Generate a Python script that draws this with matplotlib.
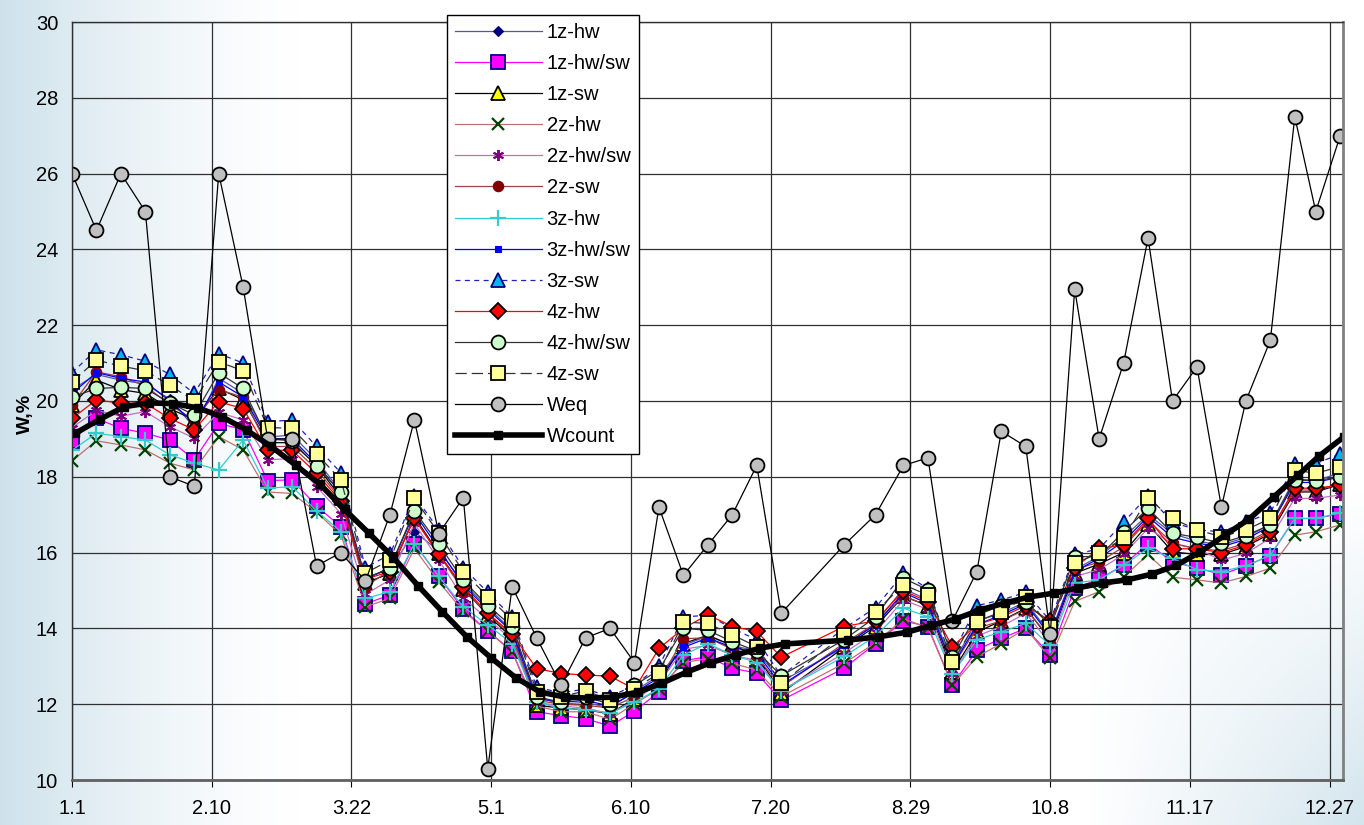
import numpy as np
import matplotlib
matplotlib.use("Agg")
import matplotlib.pyplot as plt

plt.rcParams['font.family'] = ['Liberation Sans', 'DejaVu Sans']

# ---- data -------------------------------------------------------------
# sampling dates as day of year (0 = 1 January)
days = [0, 7, 14, 21, 28, 35, 42, 49, 56, 63, 70, 77, 84, 91, 98, 105, 112,
        119, 126, 133, 140, 147, 154, 161, 168, 175, 182, 189, 196, 203,
        221, 230, 238, 245, 252, 259, 266, 273, 280, 287, 294, 301, 308, 315,
        322, 329, 336, 343, 350, 356, 363]
count_days = [1, 8, 15, 22, 29, 36, 43, 50, 57, 64, 71, 78, 85, 92, 99, 106,
              113, 120, 127, 134, 141, 148, 155, 162, 169, 176, 183, 190, 197,
              204, 222, 231, 239, 246, 253, 260, 267, 274, 281, 288, 295, 302,
              309, 316, 323, 330, 337, 344, 351, 357, 364]

tick_days = [0, 40, 80, 120, 160, 200, 240, 280, 320, 360]
tick_labels = ['1.1', '2.10', '3.22', '5.1', '6.10', '7.20', '8.29', '10.8',
               '11.17', '12.27']

z1_hw = [20.3, 20.7, 20.55, 20.45, 20.05, 19.3, 20.6, 20.2, 19.05, 19.1, 18.45,
         17.6, 15.35, 15.55, 16.55, 16.05, 15.2, 14.55, 13.95, 12.2, 12.0, 12.05,
         11.9, 12.35, 12.75, 13.55, 13.8, 13.55, 13.4, 12.6, 13.5, 14.15, 15.05,
         14.75, 13.05, 14.2, 14.4, 14.7, 13.85, 15.55, 15.9, 16.4, 17.0, 16.5,
         16.3, 16.2, 16.4, 16.75, 17.95, 17.9, 18.1]
z1_hwsw = [18.95, 19.54, 19.28, 19.15, 18.97, 18.45, 19.41, 19.24, 17.9, 17.92,
           17.23, 16.68, 14.65, 14.88, 16.24, 15.37, 14.5, 13.93, 13.4, 11.8,
           11.7, 11.62, 11.42, 11.82, 12.32, 13.15, 13.25, 12.95, 12.82, 12.1,
           12.95, 13.6, 14.2, 14.05, 12.5, 13.43, 13.74, 14.0, 13.3, 15.06, 15.3,
           15.67, 16.24, 15.75, 15.6, 15.42, 15.65, 15.92, 16.9, 16.9, 17.03]
z1_sw = [19.9, 20.55, 20.3, 20.2, 19.8, 19.5, 20.33, 20.03, 18.9, 18.9, 18.3,
         17.45, 15.2, 15.45, 16.95, 15.98, 15.05, 14.35, 13.75, 11.97, 11.9,
         11.85, 11.75, 12.15, 12.55, 13.6, 13.82, 13.55, 13.3, 12.29, 13.5,
         14.05, 14.85, 14.6, 12.85, 13.9, 14.2, 14.53, 13.7, 15.45, 15.7, 16.0,
         16.75, 16.02, 15.95, 15.95, 16.16, 16.5, 17.6, 17.6, 17.8]
z2_hw = [18.42, 18.95, 18.84, 18.71, 18.36, 18.18, 19.06, 18.71, 17.6, 17.56,
         17.07, 16.46, 14.57, 14.79, 16.11, 15.23, 14.45, 13.93, 13.38, 11.95,
         11.8, 11.8, 11.6, 12.01, 12.4, 13.1, 13.2, 13.08, 12.9, 12.2, 13.08,
         13.62, 14.25, 14.02, 12.5, 13.25, 13.6, 14.0, 13.21, 14.71, 14.97,
         15.36, 15.95, 15.35, 15.28, 15.2, 15.37, 15.59, 16.46, 16.55, 16.73]
z2_hwsw = [19.3, 19.75, 19.6, 19.72, 19.32, 19.02, 19.7, 19.5, 18.45, 18.48,
           17.74, 17.03, 14.9, 15.28, 16.77, 15.8, 14.8, 14.25, 13.7, 12.05,
           11.95, 11.9, 11.75, 12.1, 12.55, 13.45, 13.55, 13.3, 13.15, 12.35,
           13.35, 13.9, 14.75, 14.5, 12.8, 13.8, 14.05, 14.4, 13.6, 15.37, 15.55,
           15.95, 16.64, 16.23, 16.1, 15.8, 15.98, 16.38, 17.43, 17.43, 17.52]
z2_sw = [19.9, 20.77, 20.64, 20.4, 19.9, 19.5, 20.3, 20.1, 18.8, 18.8, 18.2,
         17.4, 15.1, 15.54, 16.9, 15.95, 15.0, 14.4, 13.8, 12.1, 12.0, 11.97,
         11.9, 12.2, 12.6, 13.73, 13.75, 13.45, 13.26, 12.45, 13.61, 14.13,
         14.85, 14.6, 13.0, 14.0, 14.2, 14.5, 13.75, 15.55, 15.75, 16.15, 16.85,
         16.25, 16.1, 16.05, 16.25, 16.6, 17.65, 17.65, 17.8]
z3_hw = [18.7, 19.15, 19.06, 18.97, 18.58, 18.36, 18.18, 18.97, 17.7, 17.74,
         17.1, 16.55, 14.79, 14.97, 16.24, 15.37, 14.57, 14.09, 13.6, 12.05,
         11.9, 11.85, 11.77, 12.05, 12.41, 13.3, 13.6, 13.3, 13.1, 12.35, 13.26,
         13.8, 14.53, 14.31, 12.8, 13.7, 13.91, 14.13, 13.55, 15.2, 15.28,
         15.67, 16.11, 15.85, 15.55, 15.5, 15.65, 15.93, 16.9, 16.9, 17.05]
z3_hwsw = [20.2, 20.75, 20.6, 20.5, 20.0, 19.41, 20.5, 20.11, 19.0, 19.0, 18.35,
           17.55, 15.3, 15.6, 17.05, 16.1, 15.14, 14.5, 13.91, 12.15, 12.05,
           12.1, 11.95, 12.3, 12.7, 13.5, 13.75, 13.5, 13.35, 12.5, 13.55, 14.1,
           14.95, 14.65, 13.0, 14.1, 14.35, 14.65, 13.8, 15.5, 15.85, 16.3,
           16.95, 16.4, 16.25, 16.15, 16.35, 16.7, 17.85, 17.85, 18.0]
z3_sw = [20.75, 21.35, 21.22, 21.05, 20.7, 20.2, 21.25, 21.0, 19.45, 19.5, 18.8,
         18.1, 15.6, 15.95, 17.5, 16.6, 15.6, 14.95, 14.3, 12.45, 12.3, 12.4,
         12.2, 12.5, 13.0, 14.3, 14.35, 14.0, 13.7, 12.75, 14.0, 14.55, 15.45,
         15.05, 13.3, 14.6, 14.75, 14.95, 14.2, 15.95, 16.1, 16.8, 17.5, 16.8,
         16.6, 16.55, 16.8, 17.05, 18.35, 18.35, 18.6]
z4_hw = [19.54, 20.03, 19.94, 19.94, 19.54, 19.24, 19.98, 19.8, 18.7, 18.7,
         18.09, 17.35, 15.3, 15.5, 16.9, 15.95, 15.1, 14.4, 13.85, 12.94, 12.81,
         12.77, 12.74, 12.4, 13.47, 14.0, 14.36, 14.05, 13.92, 13.24, 14.05,
         14.2, 15.0, 14.7, 13.52, 14.1, 14.3, 14.6, 14.2, 15.6, 16.11, 16.2,
         16.9, 16.1, 16.1, 16.0, 16.2, 16.55, 17.7, 17.7, 17.78]
z4_hwsw = [20.1, 20.33, 20.36, 20.33, 19.95, 19.63, 20.74, 20.33, 19.0, 18.95,
           18.28, 17.6, 15.3, 15.6, 17.1, 16.22, 15.27, 14.6, 14.05, 12.2, 12.05,
           12.2, 12.0, 12.5, 12.9, 14.0, 13.95, 13.65, 13.4, 12.75, 13.7, 14.3,
           15.32, 15.02, 13.25, 14.35, 14.6, 14.7, 14.1, 15.89, 15.9, 16.55,
           17.17, 16.51, 16.4, 16.25, 16.45, 16.73, 17.91, 17.9, 18.0]
z4_sw = [20.5, 21.08, 20.92, 20.8, 20.41, 20.01, 21.03, 20.8, 19.3, 19.28, 18.6,
         17.92, 15.46, 15.8, 17.43, 16.51, 15.49, 14.84, 14.22, 12.33, 12.2,
         12.35, 12.12, 12.4, 12.82, 14.17, 14.13, 13.83, 13.52, 12.55, 13.83,
         14.44, 15.15, 14.88, 13.12, 14.18, 14.44, 14.83, 14.04, 15.72, 15.98,
         16.38, 17.43, 16.9, 16.6, 16.42, 16.6, 16.9, 18.18, 18.09, 18.27]
w_eq = [26.0, 24.5, 26.0, 25.0, 18.0, 17.75, 26.0, 23.0, 19.0, 19.0, 15.65,
        16.0, 15.25, 17.0, 19.5, 16.5, 17.45, 10.3, 15.1, 13.75, 12.5, 13.75,
        14.0, 13.1, 17.2, 15.4, 16.2, 17.0, 18.3, 14.4, 16.2, 17.0, 18.3, 18.5,
        14.2, 15.5, 19.2, 18.8, 13.85, 22.95, 19.0, 21.0, 24.3, 20.0, 20.9,
        17.2, 20.0, 21.6, 27.5, 25.0, 27.0]
w_count = [19.15, 19.52, 19.85, 19.95, 19.93, 19.82, 19.58, 19.23, 18.8, 18.31,
           17.8, 17.14, 16.51, 15.87, 15.13, 14.44, 13.78, 13.22, 12.7, 12.32,
           12.19, 12.16, 12.19, 12.32, 12.56, 12.85, 13.1, 13.3, 13.48, 13.59,
           13.69, 13.78, 13.9, 14.08, 14.25, 14.49, 14.67, 14.83, 14.93, 15.07,
           15.2, 15.28, 15.43, 15.66, 16.02, 16.46, 16.89, 17.47, 18.05, 18.55,
           19.05]

# ---- figure -----------------------------------------------------------
W, H = 1364, 825
fig = plt.figure(figsize=(W / 100, H / 100), dpi=100)

# soft slide background: bluish at the left edge and lower-right corner
bg = fig.add_axes([0, 0, 1, 1], zorder=-10)
yy, xx = np.mgrid[0:1:330j, 0:1:546j]
left = np.clip(1 - xx / 0.22, 0, 1) ** 1.4
corner = np.clip((xx - 0.80) / 0.20, 0, 1) * np.clip((yy - 0.60) / 0.40, 0, 1)
wgt = np.clip(np.maximum(left * 0.95, corner * 0.85), 0, 1)
tint = np.array([0.80, 0.88, 0.92])
img = 1 - wgt[..., None] * (1 - tint)[None, None, :]
bg.imshow(img, aspect='auto', extent=[0, 1, 0, 1], origin='upper')
bg.set_axis_off()

ax = fig.add_axes([72 / W, 1 - 780 / H, (1343 - 72) / W, (780 - 22) / H])
ax.patch.set_alpha(0)

lw = 0.9
mew = 1.3
styles = [
    ('1z-hw', z1_hw, dict(color='#5555AA', lw=lw, marker='D', ms=5, mfc='#000080', mec='#000080', mew=0.8)),
    ('1z-hw/sw', z1_hwsw, dict(color='#FF00FF', lw=lw, marker='s', ms=9.5, mfc='#FF00FF', mec='#000080', mew=mew)),
    ('1z-sw', z1_sw, dict(color='#000000', lw=lw, marker='^', ms=9.5, mfc='#FFFF00', mec='#000000', mew=mew)),
    ('2z-hw', z2_hw, dict(color='#C07070', lw=lw, marker='x', ms=9, mfc='none', mec='#004400', mew=1.6)),
    ('2z-hw/sw', z2_hwsw, dict(color='#C070C0', lw=lw, marker=(6, 2, 0), ms=8, mec='#800080', mew=1.4)),
    ('2z-sw', z2_sw, dict(color='#A04040', lw=lw, marker='o', ms=7.5, mfc='#800000', mec='#800000', mew=0.8)),
    ('3z-hw', z3_hw, dict(color='#33CCCC', lw=lw, marker='+', ms=11, mec='#33CCCC', mew=1.6)),
    ('3z-hw/sw', z3_hwsw, dict(color='#0000FF', lw=lw, marker='s', ms=5, mfc='#0000FF', mec='#0000FF', mew=0.8)),
    ('3z-sw', z3_sw, dict(color='#2222BB', lw=lw, ls=(0, (4, 3.5)), marker='^', ms=9.5, mfc='#00B4F0', mec='#000080', mew=mew)),
    ('4z-hw', z4_hw, dict(color='#FF0000', lw=lw, marker='D', ms=8, mfc='#FF0000', mec='#000000', mew=mew)),
    ('4z-hw/sw', z4_hwsw, dict(color='#333333', lw=lw, marker='o', ms=10, mfc='#CCFFCC', mec='#000000', mew=mew)),
    ('4z-sw', z4_sw, dict(color='#333333', lw=lw, ls=(0, (9, 4)), marker='s', ms=10, mfc='#FFFF99', mec='#000000', mew=mew)),
    ('Weq', w_eq, dict(color='#000000', lw=lw, marker='o', ms=10, mfc='#C0C0C0', mec='#000000', mew=mew)),
]

for name, vals, kw in styles:
    ax.plot(days, vals, label=name, **kw)
ax.plot(count_days, w_count, label='Wcount', color='#000000', lw=4,
        marker='s', ms=6, mfc='#000000', mec='#000000')

ax.set_xlim(0, 363.8)
ax.set_ylim(10, 30)
ax.set_yticks(np.arange(10, 31, 2))
ax.set_xticks(tick_days)
ax.set_xticklabels(tick_labels)
ax.tick_params(axis='both', labelsize=14.5, color='#000000', length=5)
ax.tick_params(axis='x', pad=9)
ax.tick_params(axis='y', length=0, pad=10)
ax.grid(True, color='#303030', lw=0.9)
ax.set_axisbelow(True)
for side, sp in ax.spines.items():
    sp.set_color('#303030')
    sp.set_linewidth(1.0)
ax.spines['right'].set_color('#808080')
ax.spines['right'].set_linewidth(2)
ax.spines['bottom'].set_color('#606060')
ax.spines['bottom'].set_linewidth(2)
ax.set_ylabel('W,%', fontsize=14, fontweight='bold')
ax.yaxis.set_label_coords(-0.030, 0.483)

leg = ax.legend(loc='upper left', bbox_to_anchor=(447 / W, 1 - 15 / H),
                bbox_transform=fig.transFigure, fontsize=14.5,
                handlelength=4.3, handletextpad=0.25, labelspacing=0.6,
                borderpad=0.4, borderaxespad=0, fancybox=False,
                framealpha=1, edgecolor='#000000', facecolor='#FFFFFF')
leg.get_frame().set_linewidth(1.0)
leg.set_zorder(20)

fig.savefig('out.png', dpi=100)
